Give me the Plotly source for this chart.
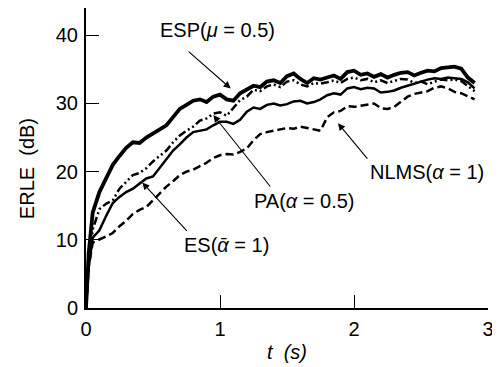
import plotly.graph_objects as go

t = [0, 0.02, 0.05, 0.10, 0.15, 0.20, 0.25, 0.30, 0.35, 0.40, 0.45, 0.50, 0.55, 0.60,
     0.65, 0.70, 0.75, 0.80, 0.85, 0.90, 0.95, 1.00, 1.05, 1.10, 1.15, 1.20, 1.25,
     1.30, 1.35, 1.40, 1.45, 1.50, 1.55, 1.60, 1.65, 1.70, 1.75, 1.80, 1.85, 1.90,
     1.95, 2.00, 2.05, 2.10, 2.15, 2.20, 2.25, 2.30, 2.35, 2.40, 2.45, 2.50, 2.55,
     2.60, 2.65, 2.70, 2.75, 2.80, 2.85, 2.90]

esp = [0, 8, 14, 17, 19, 21, 22.3, 23.5, 24.3, 24.2, 25, 25.6, 26.3, 26.8,
       28, 29.2, 29.8, 30.4, 30.6, 30.2, 31, 31.3, 30.6, 30.4, 31.5, 32, 32.6,
       32.4, 33.2, 33.4, 33.0, 34, 34.4, 33.6, 33, 33.7, 33.5, 33.8, 34.1, 33.6,
       34.6, 34.8, 34.2, 34.4, 33.9, 34.3, 33.8, 34.2, 34.5, 34.6, 34.1, 34.5, 34.8,
       34.7, 35.2, 35.3, 35.4, 35.1, 33.8, 33]

pa = [0, 7, 11.5, 14.5, 15.3, 15.8, 17.5, 18.5, 19.5, 19.8, 20.5, 21.5, 22.3, 23.1,
      24.3, 25.3, 26, 26.6, 27.5, 27.8, 28.5, 28.7, 28.2, 29.3, 30.5, 31, 32,
      31.8, 32.5, 32.8, 32.4, 33.2, 33.4, 32.8, 32.5, 33, 32.9, 33.1, 33.4, 33,
      33.6, 33.8, 33.4, 33.6, 33.1, 33.4, 33, 33.3, 33.6, 33.5, 33, 33.2, 32.8,
      33.2, 33.5, 33.4, 33.5, 33.3, 32.6, 31.8]

es = [0, 6, 10.3, 11.4, 13.5, 15.4, 16.3, 17, 17.5, 18.3, 19, 19.3, 20.6, 21.8,
      23.1, 24, 25, 25.8, 26, 26.2, 26.8, 27.3, 27.3, 27, 27.6, 28.8, 29.4,
      29.2, 29.8, 30, 29.7, 29.9, 30.3, 30.4, 30, 30.2, 30.6, 31.2, 31.5, 31.3,
      32.2, 32.4, 32.1, 32.3, 32.2, 31.6, 31.7, 31.9, 32.3, 32.6, 33, 33.2, 33.5,
      33.7, 33.6, 33.8, 33.7, 33.6, 33.1, 32.2]

nlms = [0, 6, 9.6, 10, 10.5, 11, 12, 12.8, 13.8, 14.4, 14.8, 15.8, 16.8, 17.8,
        18.6, 19.5, 20, 20.3, 20.8, 21.3, 22, 22.4, 22.6, 22.5, 22.9, 23.4, 24.6,
        25.5, 25.8, 26, 26.1, 26.4, 26.3, 26.6, 26.4, 26.2, 26, 28, 28.7, 28.9,
        29.6, 29.5, 29.7, 29.9, 30, 29.3, 29.2, 29.5, 30.3, 31, 31.4, 31.6, 31.8,
        32.3, 32.5, 32.2, 31.7, 31.5, 31, 30.6]

x_ticks = [0, 1, 2, 3]
y_ticks = [0, 10, 20, 30, 40]

FONT = "Liberation Sans, Arial, Helvetica, sans-serif"

fig = go.Figure()
fig.add_trace(go.Scatter(x=t, y=nlms, mode="lines", line=dict(color="black", width=2.5, dash="8px,4px")))
fig.add_trace(go.Scatter(x=t, y=es, mode="lines", line=dict(color="black", width=2.5)))
fig.add_trace(go.Scatter(x=t, y=pa, mode="lines", line=dict(color="black", width=2.5, dash="8px,3px,2px,3px,2px,3px")))
fig.add_trace(go.Scatter(x=t, y=esp, mode="lines", line=dict(color="black", width=3.8)))

labels = [
    dict(text="ESP(<i>μ</i> = 0.5)", x=0.985, y=40.8, tx=0.755, ty=37.8, hx=1.08, hy=32.2),
    dict(text="PA(<i>α</i> = 0.5)", x=1.63, y=15.7, tx=1.384, ty=17.6, hx=0.95, hy=28.3),
    dict(text="ES(<i>\u1fb1</i> = 1)", x=1.05, y=9.3, tx=0.763, ty=11.1, hx=0.42, hy=18.4),
    dict(text="NLMS(<i>α</i> = 1)", x=2.545, y=19.9, tx=2.109, ty=21.7, hx=1.88, hy=27.1),
]
for lb in labels:
    fig.add_annotation(x=lb["x"], y=lb["y"], text=lb["text"], showarrow=False,
                       font=dict(size=20, color="black", family=FONT), xref="x", yref="y")
    fig.add_annotation(x=lb["hx"], y=lb["hy"], ax=lb["tx"], ay=lb["ty"], axref="x", ayref="y",
                       xref="x", yref="y", text="", showarrow=True, arrowhead=2,
                       arrowsize=1.3, arrowwidth=1.1, arrowcolor="black", standoff=0)

# page body adds an 8px margin; compensate in figure size/margins
fig.update_layout(
    width=492, height=359,
    margin=dict(l=78, r=12, t=0, b=59),
    plot_bgcolor="white", paper_bgcolor="white",
    showlegend=False,
    font=dict(family=FONT, size=20, color="black"),
    xaxis=dict(range=[0, 3], tickvals=x_ticks, ticks="inside", ticklen=13, tickwidth=1.3,
               tickcolor="black", showline=True, linecolor="black", linewidth=2,
               showgrid=False, zeroline=False, tickfont=dict(size=20), ticklabelstandoff=2),
    yaxis=dict(range=[0, 44], tickvals=y_ticks, ticks="inside", ticklen=13, tickwidth=1.3,
               tickcolor="black", showline=True, linecolor="black", linewidth=2,
               showgrid=False, zeroline=False, tickfont=dict(size=20), ticklabelstandoff=2),
)
fig.add_annotation(text="ERLE  (dB)", x=-0.147, xref="paper", y=20.5, yref="y",
                   textangle=-90, showarrow=False, font=dict(size=20, family=FONT),
                   xanchor="center", yanchor="middle")
fig.add_annotation(text="<i>t  (s)</i>", x=1.5, xref="x", y=-0.147, yref="paper",
                   xanchor="center", yanchor="middle",
                   showarrow=False, font=dict(size=20, family=FONT))
fig.write_html("out.html")
